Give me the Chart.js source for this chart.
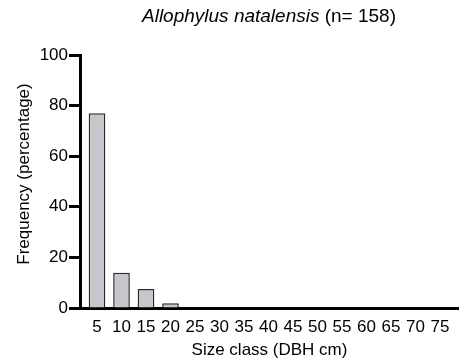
<!DOCTYPE html>
<html>
<head>
<meta charset="utf-8">
<script src="https://cdn.jsdelivr.net/npm/chart.js@4/dist/chart.umd.min.js"></script>
<style>
html,body{margin:0;padding:0;background:#fff;}
#wrap{width:459px;height:364px;}
</style>
</head>
<body>
<div id="wrap"><canvas id="c" width="459" height="364"></canvas></div>
<script>
const categories = [5, 10, 15, 20, 25, 30, 35, 40, 45, 50, 55, 60, 65, 70, 75];
const frequency = [77.0, 13.9, 7.5, 1.9, 0, 0, 0, 0, 0, 0, 0, 0, 0, 0, 0];
const yTicks = [0, 20, 40, 60, 80, 100];
const speciesName = 'Allophylus natalensis';
const sampleNote = ' (n= 158)';
const xTitle = 'Size class (DBH cm)';
const yTitle = 'Frequency (percentage)';

const FONT = '"Liberation Sans", Arial, sans-serif';

const titlePlugin = {
  id: 'mixedTitle',
  afterDraw(chart) {
    const ctx = chart.ctx;
    ctx.save();
    ctx.fillStyle = '#000';
    ctx.textBaseline = 'alphabetic';
    ctx.font = 'italic 19px ' + FONT;
    const w1 = ctx.measureText(speciesName).width;
    ctx.font = '19px ' + FONT;
    const w2 = ctx.measureText(sampleNote).width;
    const cx = 269;
    let x = cx - (w1 + w2) / 2;
    ctx.font = 'italic 19px ' + FONT;
    ctx.fillText(speciesName, x, 22);
    ctx.font = '19px ' + FONT;
    ctx.fillText(sampleNote, x + w1, 22);
    // y-axis title, rotated
    ctx.translate(24, 174);
    ctx.rotate(-Math.PI / 2);
    ctx.textAlign = 'center';
    ctx.textBaseline = 'middle';
    ctx.font = '17px ' + FONT;
    ctx.fillText(yTitle, 0, 0);
    ctx.restore();
  }
};

new Chart(document.getElementById('c'), {
  type: 'bar',
  data: {
    datasets: [{
      data: categories.map((c, i) => ({x: c, y: frequency[i]})),
      backgroundColor: '#c6c6cc',
      borderColor: '#2a2a2a',
      borderWidth: 1.5,
      borderSkipped: 'bottom',
      categoryPercentage: 1,
      barPercentage: 0.68
    }]
  },
  plugins: [titlePlugin],
  options: {
    responsive: false,
    animation: false,
    layout: {autoPadding: false, padding: {top: 55, right: 0, left: 0, bottom: 0}},
    plugins: {legend: {display: false}, tooltip: {enabled: false}, title: {display: false}},
    scales: {
      x: {
        type: 'linear',
        offset: false,
        min: 1.53,
        max: 78.88,
        afterBuildTicks: (s) => { s.ticks = categories.map(v => ({value: v})); },
        afterFit: (s) => { s.height = 56; },
        grid: {display: false, offset: false},
        border: {display: true, color: '#000', width: 3},
        ticks: {color: '#000', font: {family: FONT, size: 17}, padding: 1, maxRotation: 0, autoSkip: false},
        title: {display: true, text: xTitle, color: '#000', font: {family: FONT, size: 17}, padding: {top: 0, bottom: 3}}
      },
      y: {
        min: 0,
        max: 100,
        afterBuildTicks: (s) => { s.ticks = yTicks.map(v => ({value: v})); },
        afterFit: (s) => { s.width = 80; },
        grid: {display: true, drawOnChartArea: false, drawTicks: true, tickLength: 11, tickWidth: 3, tickColor: '#000'},
        border: {display: true, color: '#000', width: 3},
        ticks: {color: '#000', font: {family: FONT, size: 17}, padding: 1},
        title: {display: false}
      }
    }
  }
});
</script>
</body>
</html>
